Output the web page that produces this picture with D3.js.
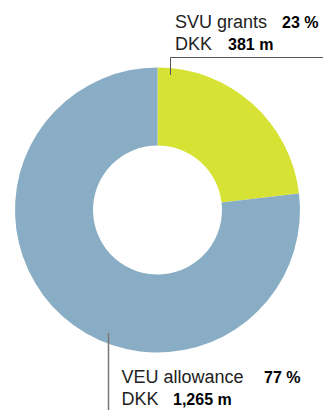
<!DOCTYPE html>
<html><head><meta charset="utf-8">
<script src="https://cdn.jsdelivr.net/npm/d3@7"></script>
<style>body{margin:0;background:#fff}svg{display:block}</style>
</head><body>
<script>
const categories = ["SVU grants", "VEU allowance"];
const amounts = [381, 1265];
const amountLabels = ["381 m", "1,265 m"];
const percentLabels = ["23 %", "77 %"];
const colors = ["#d6e334", "#88adc4"];

const W = 323, H = 410;
const cx = 157.5, cy = 210, rOuter = 142.5, rInner = 64.5;
const svg = d3.select("body").append("svg").attr("width", W).attr("height", H);

const pie = d3.pie().sort(null).value(d => d)(amounts);
const arc = d3.arc().innerRadius(rInner).outerRadius(rOuter);
const g = svg.append("g").attr("transform", `translate(${cx},${cy})`);
g.selectAll("path").data(pie).join("path")
  .attr("d", arc).attr("fill", (d, i) => colors[i]);

// Leader lines
svg.append("path").attr("d", "M170.5,75V57.5H323")
  .attr("fill", "none").attr("stroke", "#555").attr("stroke-width", 1);
svg.append("line").attr("x1", 108.5).attr("x2", 108.5).attr("y1", 333).attr("y2", 410)
  .attr("stroke", "#777").attr("stroke-width", 1.5);

// Labels
const labels = [
  {x: 175, y: 28, nx: 282, dx: 228},
  {x: 121.5, y: 383, nx: 264, dx: 173}
];
labels.forEach((p, i) => {
  const t = svg.append("g").attr("font-family", "Liberation Sans, Arial, sans-serif");
  t.append("text").attr("x", p.x).attr("y", p.y).attr("font-size", 18).attr("fill", "#222").text(categories[i]);
  t.append("text").attr("x", p.nx).attr("y", p.y).attr("font-size", 16).attr("font-weight", "bold").attr("fill", "#000").text(percentLabels[i]);
  t.append("text").attr("x", p.x).attr("y", p.y + 22).attr("font-size", 18).attr("fill", "#222").text("DKK");
  t.append("text").attr("x", p.dx).attr("y", p.y + 22).attr("font-size", 16).attr("font-weight", "bold").attr("fill", "#000").text(amountLabels[i]);
});
</script>
</body></html>
